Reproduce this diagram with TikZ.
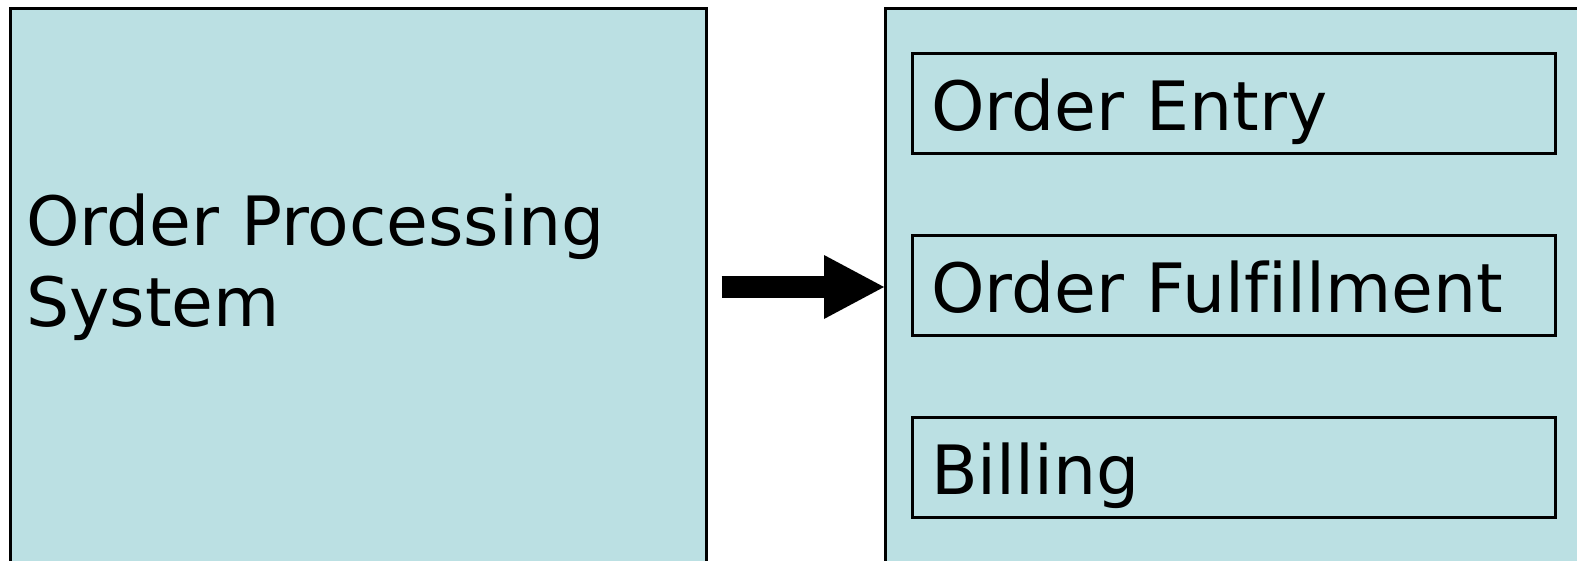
\documentclass[tikz,border=0pt]{standalone}
\usepackage{fontspec}
\setmainfont[Ligatures=NoCommon]{DejaVu Sans}
\usetikzlibrary{positioning,arrows.meta}
\definecolor{panelblue}{RGB}{187,224,227}
\begin{document}
\begin{tikzpicture}[x=0.5pt,y=-0.5pt,
    panel/.style={draw,fill=panelblue,line width=1.5pt,inner sep=0pt},
    part/.style={draw,line width=1.5pt,inner xsep=9.25pt,inner ysep=0pt,
      text width=303pt,minimum height=50pt,align=left,
      text height=27pt,text depth=0pt},
    bigarrow/.style={line width=11pt,-{Triangle[length=30pt,width=32pt,line width=0pt]}}]
    \useasboundingbox (0,0) rectangle (1577,561);
    \clip (0,0) rectangle (1577,561);
    \fontsize{34pt}{40.5pt}\selectfont
    \node[panel,minimum width=348pt,minimum height=278.5pt] (opsys) at (358.5,287) {};
    \node[anchor=base west,align=left,inner sep=0pt] (opsyslabel)
      at ([xshift=8.5pt,yshift=-19.85pt]opsys.west) {Order Processing\\System};
    \node[panel,minimum width=368.75pt,minimum height=278.5pt,right=88pt of opsys] (modules) {};
    \node[part,below right=22.65pt and 13.5pt of modules.north west] (entry) {Order Entry};
    \node[part,below=39.5pt of entry] (fulfil) {Order Fulfillment};
    \node[part,below=39.5pt of fulfil] (billing) {Billing};
    \draw[bigarrow] ([xshift=6.75pt]opsys.east) -- (modules.west);
\end{tikzpicture}
\end{document}
